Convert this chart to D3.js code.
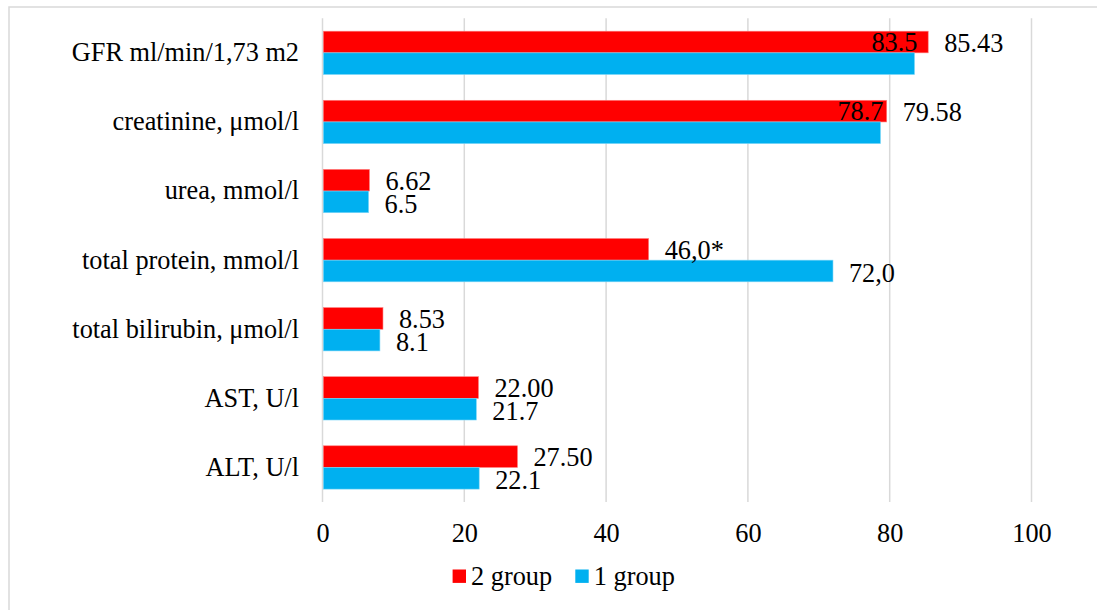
<!DOCTYPE html>
<html>
<head>
<meta charset="utf-8">
<script src="https://cdn.jsdelivr.net/npm/d3@7"></script>
<style>
  html, body { margin: 0; padding: 0; background: #fff; overflow: hidden; }
  svg { display: block; }
  svg text { font-family: "Times New Roman", "Liberation Serif", Tinos, "DejaVu Serif", serif !important; fill: #000; }
</style>
</head>
<body>
<script>
// ---- data ----
const categories = [
  "GFR ml/min/1,73 m2",
  "creatinine, μmol/l",
  "urea, mmol/l",
  "total protein, mmol/l",
  "total bilirubin, μmol/l",
  "AST, U/l",
  "ALT, U/l"
];
const group2Values = [85.43, 79.58, 6.62, 46.0, 8.53, 22.00, 27.50];
const group1Values = [83.5, 78.7, 6.5, 72.0, 8.1, 21.7, 22.1];
const group2Labels = ["85.43", "79.58", "6.62", "46,0*", "8.53", "22.00", "27.50"];
const group1Labels = ["83.5", "78.7", "6.5", "72,0", "8.1", "21.7", "22.1"];
const xTicks = [0, 20, 40, 60, 80, 100];
const seriesNames = ["2 group", "1 group"];

// ---- layout / style ----
const W = 1097, H = 610;
const RED = "#FF0000", BLUE = "#00B0F0", GRID = "#D9D9D9";
const FS = 26.3;
const SERIF = '"Times New Roman", "Liberation Serif", Tinos, "DejaVu Serif", serif';
// categories whose "1 group" label sits inside the red row (as in the original)
const raisedBlueLabels = new Set(["GFR ml/min/1,73 m2", "creatinine, μmol/l"]);

const svg = d3.select("body").append("svg").attr("width", W).attr("height", H)
  .attr("font-family", SERIF);

// outer chart border (cropped at right/bottom)
svg.append("rect")
  .attr("x", 9).attr("y", 7).attr("width", W + 20).attr("height", H + 20)
  .attr("fill", "#fff").attr("stroke", GRID).attr("stroke-width", 1.5);

const x = d3.scaleLinear().domain([0, 100]).range([322.5, 1031.5]);
const y = d3.scaleBand().domain(categories).range([18.3, 502])
  .paddingInner(0.373).paddingOuter(0.373 / 2);
const sub = d3.scaleBand().domain(seriesNames).range([0, y.bandwidth()]);

// gridlines
svg.append("g").selectAll("line").data(xTicks).join("line")
  .attr("x1", d => x(d)).attr("x2", d => x(d))
  .attr("y1", 18.3).attr("y2", 502)
  .attr("stroke", GRID).attr("stroke-width", 1.5);

// x axis tick labels
const xAxis = d3.axisBottom(x).tickValues(xTicks).tickSize(0).tickPadding(0);
const gx = svg.append("g").attr("transform", "translate(0,533)").call(xAxis)
  .attr("font-family", SERIF).attr("font-size", FS);
gx.select(".domain").remove();
gx.selectAll("text").attr("dy", "0.33em").attr("fill", "#000");

// y axis category labels
const yAxis = d3.axisLeft(y).tickSize(0).tickPadding(0);
const gy = svg.append("g").attr("transform", "translate(299,0)").call(yAxis)
  .attr("font-family", SERIF).attr("font-size", FS);
gy.select(".domain").remove();
gy.selectAll("text").attr("dy", "0.32em").attr("fill", "#000");

const rows = categories.map((c, i) => ({
  c, v2: group2Values[i], v1: group1Values[i], l2: group2Labels[i], l1: group1Labels[i]
}));

// bars
const gb = svg.append("g");
gb.selectAll("rect.g2").data(rows).join("rect").attr("class", "g2")
  .attr("x", x(0) + 0.8).attr("y", d => y(d.c) + sub("2 group"))
  .attr("width", d => x(d.v2) - x(0) - 0.8).attr("height", sub.bandwidth())
  .attr("fill", RED).attr("stroke", "#ff8080").attr("stroke-width", 0.6);
gb.selectAll("rect.g1").data(rows).join("rect").attr("class", "g1")
  .attr("x", x(0) + 0.8).attr("y", d => y(d.c) + sub("1 group"))
  .attr("width", d => x(d.v1) - x(0) - 0.8).attr("height", sub.bandwidth())
  .attr("fill", BLUE).attr("stroke", "#7fd7f7").attr("stroke-width", 0.6);

// data labels
const gl = svg.append("g").attr("font-size", FS);
gl.selectAll("text.l2").data(rows).join("text").attr("class", "l2")
  .attr("x", d => x(d.v2) + 16)
  .attr("y", d => y(d.c) + sub("2 group") + sub.bandwidth() / 2 + 1)
  .attr("dy", "0.33em").text(d => d.l2);
gl.selectAll("text.l1").data(rows).join("text").attr("class", "l1")
  .attr("text-anchor", d => raisedBlueLabels.has(d.c) ? "end" : "start")
  .attr("x", d => raisedBlueLabels.has(d.c) ? x(d.v1) + 3 : x(d.v1) + 16)
  .attr("y", d => raisedBlueLabels.has(d.c)
      ? y(d.c) + sub("2 group") + sub.bandwidth() / 2
      : y(d.c) + sub("1 group") + sub.bandwidth() / 2 + 2)
  .attr("dy", "0.33em").text(d => d.l1);

// legend
const legendX = [452.6, 575.3];
const legend = svg.append("g");
seriesNames.forEach((s, i) => {
  legend.append("rect").attr("x", legendX[i]).attr("y", 569.5)
    .attr("width", 13.4).attr("height", 13.4).attr("fill", i === 0 ? RED : BLUE);
  legend.append("text").attr("x", legendX[i] + 18.5).attr("y", 576.5)
    .attr("dy", "0.33em").attr("font-size", FS).text(s);
});
</script>
</body>
</html>
